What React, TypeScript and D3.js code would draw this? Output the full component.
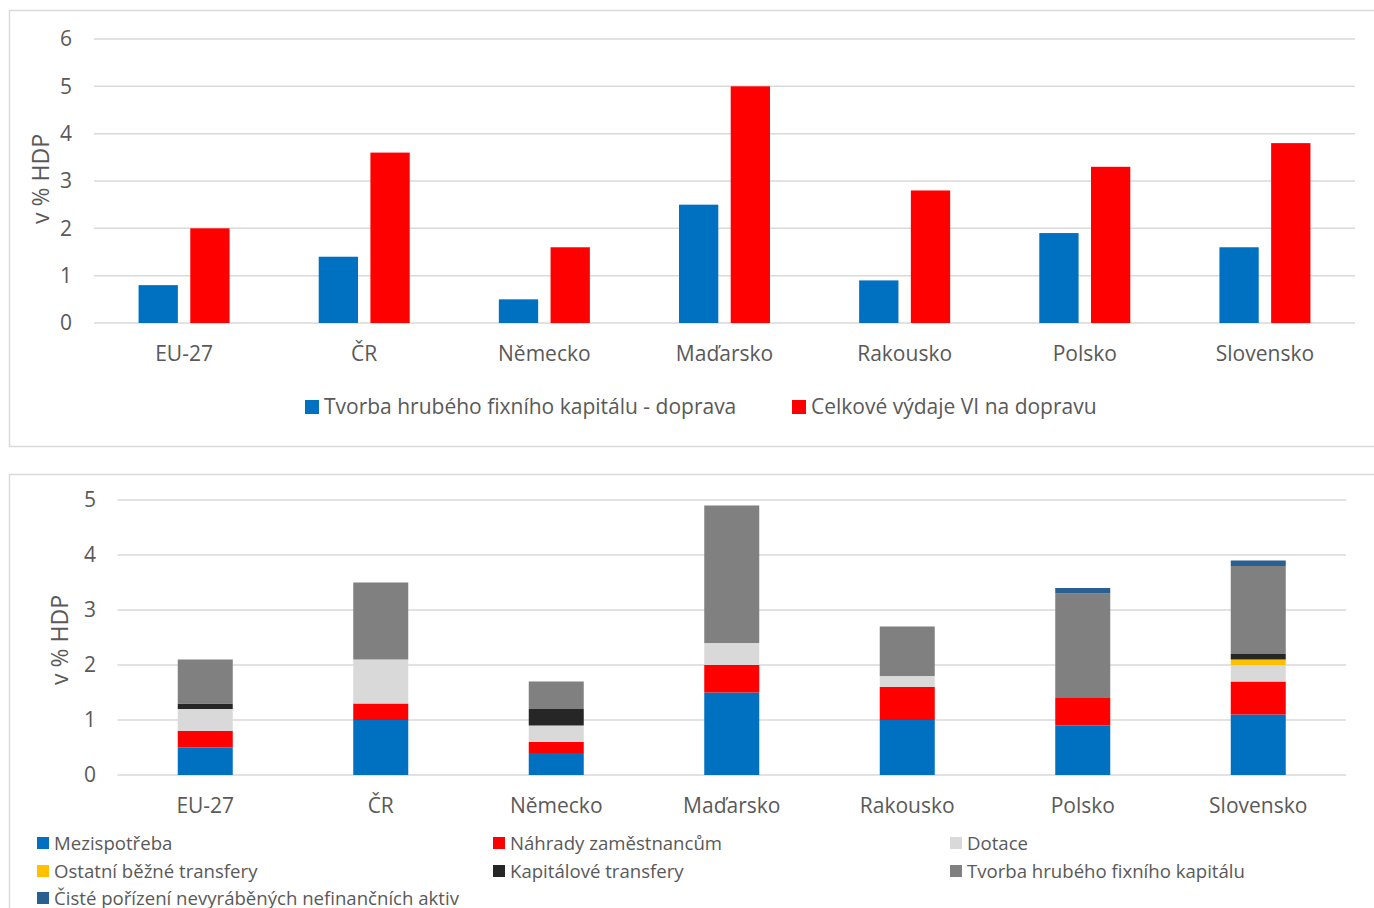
import React from "react";
import * as d3 from "d3";

const categories = ["EU-27", "ČR", "Německo", "Maďarsko", "Rakousko", "Polsko", "Slovensko"];

// Top chart
const topSeriesNames = ["Tvorba hrubého fixního kapitálu - doprava", "Celkové výdaje VI na dopravu"];
const topSeriesColors = ["#0070c0", "#ff0000"];
const gfcfTransport = [0.8, 1.4, 0.5, 2.5, 0.9, 1.9, 1.6];
const totalTransport = [2.0, 3.6, 1.6, 5.0, 2.8, 3.3, 3.8];
const topTicks = [0, 1, 2, 3, 4, 5, 6];

// Bottom chart (stacked)
const stackNames = [
  "Mezispotřeba",
  "Náhrady zaměstnancům",
  "Dotace",
  "Ostatní běžné transfery",
  "Kapitálové transfery",
  "Tvorba hrubého fixního kapitálu",
  "Čisté pořízení nevyráběných nefinančních aktiv",
];
const stackColors = ["#0070c0", "#ff0000", "#d9d9d9", "#ffc000", "#262626", "#808080", "#2a5f91"];
const mezispotreba = [0.5, 1.0, 0.4, 1.5, 1.0, 0.9, 1.1];
const nahrady = [0.3, 0.3, 0.2, 0.5, 0.6, 0.5, 0.6];
const dotace = [0.4, 0.8, 0.3, 0.4, 0.2, 0.0, 0.3];
const ostatniBezne = [0.0, 0.0, 0.0, 0.0, 0.0, 0.0, 0.1];
const kapitaloveTransfery = [0.1, 0.0, 0.3, 0.0, 0.0, 0.0, 0.1];
const tvorbaHFK = [0.8, 1.4, 0.5, 2.5, 0.9, 1.9, 1.6];
const cistePorizeni = [0.0, 0.0, 0.0, 0.0, 0.0, 0.1, 0.1];
const bottomTicks = [0, 1, 2, 3, 4, 5];

const FONT = "'Open Sans', Lato, sans-serif";
const TXT = "#595959";
const GRID = "#d9d9d9";

function TopChart() {
  const x0 = 94, x1 = 1355, yTop = 39, yBot = 323;
  const x = d3.scaleBand<string>().domain(categories).range([x0, x1]).paddingInner(0).paddingOuter(0);
  const xs = d3.scaleBand<number>().domain([0, 1]).range([0, 91]).paddingInner(0.24);
  const y = d3.scaleLinear().domain([0, 6]).range([yBot, yTop]);
  const series = [gfcfTransport, totalTransport];
  const bw = x.bandwidth();
  return (
    <g>
      <rect x={9.5} y={10.5} width={1400} height={436} fill="#fff" stroke={GRID} strokeWidth={1.5} />
      {topTicks.map((t) => (
        <g key={t}>
          <line x1={x0} x2={x1} y1={y(t)} y2={y(t)} stroke={GRID} strokeWidth={1.5} />
          <text x={72} y={y(t)} dy="0.35em" textAnchor="end" fontSize={21} fill={TXT} fontFamily={FONT}>{t}</text>
        </g>
      ))}
      <text transform={`translate(49,${(yTop + yBot) / 2 - 2}) rotate(-90)`} textAnchor="middle" fontSize={23} fill={TXT} fontFamily={FONT}>v % HDP</text>
      {categories.map((c, i) => (
        <g key={c}>
          {series.map((s, k) => (
            <rect key={k} x={(x(c) as number) + (bw - 91) / 2 + (xs(k) as number)} width={xs.bandwidth()} y={y(s[i])} height={yBot - y(s[i])} fill={topSeriesColors[k]} />
          ))}
          <text x={(x(c) as number) + bw / 2} y={354} dy="0.35em" textAnchor="middle" fontSize={21} fill={TXT} fontFamily={FONT}>{c}</text>
        </g>
      ))}
      {[305, 792].map((lx, k) => (
        <g key={k}>
          <rect x={lx} y={400} width={14} height={14} fill={topSeriesColors[k]} />
          <text x={lx + 19} y={407} dy="0.35em" fontSize={21} fill={TXT} fontFamily={FONT}>{topSeriesNames[k]}</text>
        </g>
      ))}
    </g>
  );
}

function BottomChart() {
  const x0 = 117.5, x1 = 1346, yTop = 500, yBot = 775;
  const x = d3.scaleBand<string>().domain(categories).range([x0, x1]).paddingInner(0).paddingOuter(0);
  const y = d3.scaleLinear().domain([0, 5]).range([yBot, yTop]);
  const cols = [mezispotreba, nahrady, dotace, ostatniBezne, kapitaloveTransfery, tvorbaHFK, cistePorizeni];
  const rows = categories.map((c, i) => {
    const o: Record<string, number | string> = { cat: c };
    stackNames.forEach((n, k) => (o[n] = cols[k][i]));
    return o;
  });
  const stack = d3.stack<Record<string, number | string>>().keys(stackNames);
  const layers = stack(rows as any);
  const bw = x.bandwidth();
  const barW = 55;
  const legendCols = [37, 493, 950];
  const legendRows = [843, 871, 898];
  return (
    <g>
      <rect x={9.5} y={474.5} width={1400} height={460} fill="#fff" stroke={GRID} strokeWidth={1.5} />
      {bottomTicks.map((t) => (
        <g key={t}>
          <line x1={x0} x2={x1} y1={y(t)} y2={y(t)} stroke={GRID} strokeWidth={1.5} />
          <text x={96} y={y(t)} dy="0.35em" textAnchor="end" fontSize={21} fill={TXT} fontFamily={FONT}>{t}</text>
        </g>
      ))}
      <text transform={`translate(68,${640}) rotate(-90)`} textAnchor="middle" fontSize={23} fill={TXT} fontFamily={FONT}>v % HDP</text>
      {layers.map((layer, k) => (
        <g key={k} fill={stackColors[k]}>
          {layer.map((d, i) =>
            d[1] - d[0] > 0 ? (
              <rect key={i} x={(x(categories[i]) as number) + (bw - barW) / 2} width={barW} y={y(d[1])} height={y(d[0]) - y(d[1])} />
            ) : null
          )}
        </g>
      ))}
      {categories.map((c) => (
        <text key={c} x={(x(c) as number) + bw / 2} y={806} dy="0.35em" textAnchor="middle" fontSize={21} fill={TXT} fontFamily={FONT}>{c}</text>
      ))}
      {stackNames.map((n, k) => {
        const lx = legendCols[k % 3];
        const ly = legendRows[Math.floor(k / 3)];
        return (
          <g key={n}>
            <rect x={lx} y={ly - 6} width={12} height={12} fill={stackColors[k]} />
            <text x={lx + 17} y={ly} dy="0.35em" fontSize={18.6} fill={TXT} fontFamily={FONT}>{n}</text>
          </g>
        );
      })}
    </g>
  );
}

export default function App() {
  return (
    <svg width={1374} height={908} style={{ position: "absolute", left: 0, top: 0, background: "#fff" }}>
      <TopChart />
      <BottomChart />
    </svg>
  );
}
